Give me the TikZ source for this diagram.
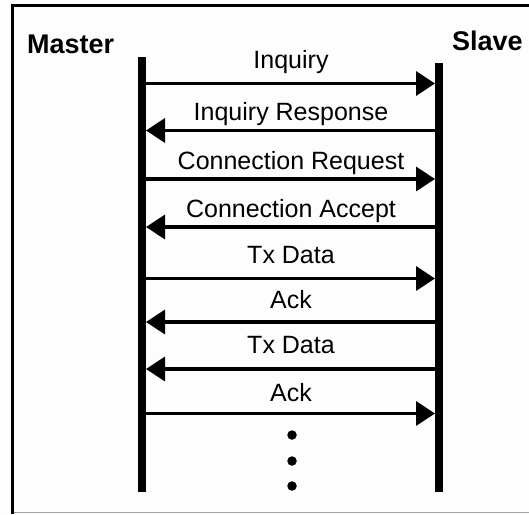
\documentclass[tikz,border=0pt]{standalone}
\usepackage{fontspec}
\setmainfont{Liberation Sans}
\usetikzlibrary{arrows.meta}
\definecolor{Ink}{HTML}{000000}
\definecolor{Edge}{HTML}{A0A0A0}
\definecolor{Paper}{HTML}{FDFDFD}
\tikzset{
    lifeline/.style={line width=8pt, color=Ink},
    msg/.style={-{Triangle[length=19pt, width=24pt]}, line width=3.5pt, color=Ink},
    msglabel/.style={anchor=base, inner sep=0pt, text=Ink, font=\fontsize{25}{30}\selectfont},
    rolelabel/.style={anchor=base west, inner sep=0pt, text=Ink, font=\bfseries\fontsize{27}{32}\selectfont},
    dot/.style={circle, fill=Ink, inner sep=0pt, minimum size=9.5pt},
}

\begin{document}
\begin{tikzpicture}[x=1pt, y=-1pt]
        \useasboundingbox (0,0) rectangle (529,514);
        \fill[Paper] (0,0) rectangle (529,514);

        % Frame
        \draw[Edge, line width=1.5pt] (12,512.5) -- (529,512.5);
        \draw[Ink, line width=3pt] (12,514) -- (12,5) -- (529,5);

        % Roles
        \node[rolelabel] (master) at (27,53) {Master};
        \node[rolelabel] (slave) at (452,50) {Slave};

        % Lifelines
        \coordinate (mtop) at (142,57);
        \coordinate (mbot) at (142,492);
        \coordinate (stop) at (439,63);
        \coordinate (sbot) at (439,492);
        \draw[lifeline] (mtop) -- (mbot);
        \draw[lifeline] (stop) -- (sbot);

        % Message ends, on the edges of the lifelines
        \coordinate (m1) at (146,83.5);  \coordinate (s1) at (435,83.5);
        \coordinate (m2) at (146,130.5); \coordinate (s2) at (435,130.5);
        \coordinate (m3) at (146,179);   \coordinate (s3) at (435,179);
        \coordinate (m4) at (146,227);   \coordinate (s4) at (435,227);
        \coordinate (m5) at (146,278.5); \coordinate (s5) at (435,278.5);
        \coordinate (m6) at (146,322);   \coordinate (s6) at (435,322);
        \coordinate (m7) at (146,369);   \coordinate (s7) at (435,369);
        \coordinate (m8) at (146,413.5); \coordinate (s8) at (435,413.5);

        % Messages
        \draw[msg] (m1) -- (s1);
        \draw[msg] (s2) -- (m2);
        \draw[msg] (m3) -- (s3);
        \draw[msg] (s4) -- (m4);
        \draw[msg] (m5) -- (s5);
        \draw[msg] (s6) -- (m6);
        \draw[msg] (s7) -- (m7);
        \draw[msg] (m8) -- (s8);

        \node[msglabel] (inq) at (291,68) {Inquiry};
        \node[msglabel] (inqresp) at (291,120) {Inquiry Response};
        \node[msglabel] (connreq) at (291,169) {Connection Request};
        \node[msglabel] (connacc) at (291,217) {Connection Accept};
        \node[msglabel] (txa) at (291,263) {Tx Data};
        \node[msglabel] (acka) at (291,308) {Ack};
        \node[msglabel] (txb) at (291,353) {Tx Data};
        \node[msglabel] (ackb) at (291,401) {Ack};

        % More to come
        \node[dot] (dot1) at (292,435) {};
        \node[dot] (dot2) at (292,461) {};
        \node[dot] (dot3) at (292,486) {};
    \end{tikzpicture}
\end{document}
